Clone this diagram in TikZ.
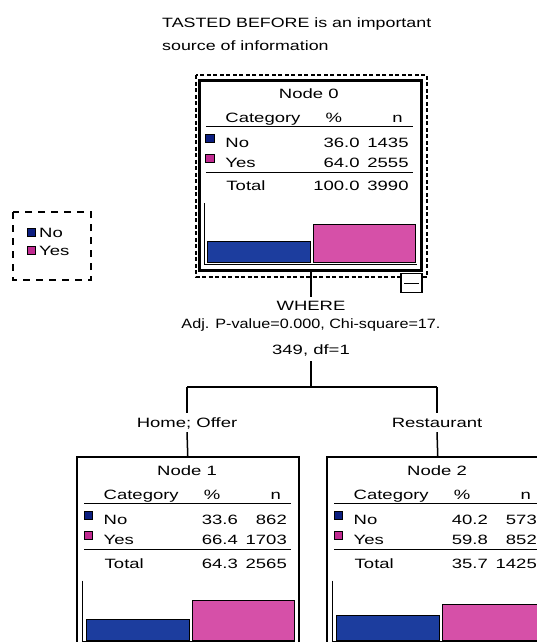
\documentclass[tikz,border=0pt]{standalone}
\usepackage{fontspec}
\newfontfamily\spss[FakeStretch=1.37]{Liberation Sans}
\newfontfamily\spsstitle[FakeStretch=1.32]{Liberation Sans}
\newfontfamily\spssnarrow[FakeStretch=1.2]{Liberation Sans}
\definecolor{barblue}{HTML}{1C3D9E}
\definecolor{barpink}{HTML}{D650A8}
\definecolor{sqblue}{HTML}{0C1E80}
\definecolor{sqpink}{HTML}{C02A90}
\tikzset{
  txt/.style={inner sep=0pt, font={\fontsize{13.5}{16}\selectfont\spss}, text=black},
  rulel/.style={line width=1.5pt},
  bar/.style={draw=black, line width=0.9pt},
  sq/.style={draw=black, line width=0.7pt},
  conn/.style={line width=1.5pt},
  lbl/.style={txt, text height=9.7pt, text depth=0pt, inner ysep=4.5pt},
  treebox/.style={draw, line width=1.5pt, minimum width=222pt, minimum height=190pt, anchor=north west, inner sep=0pt},
}
\newcommand\statbox[8]{%
\begin{scope}[shift={(#1.north west)}]
\node[txt,anchor=base] (#1-title) at (111,19.5) {Node #2};
\node[txt,anchor=base west] (#1-cat) at (27.5,43.5) {Category};
\node[txt,anchor=base] (#1-pct) at (136,43.5) {\%};
\node[txt,anchor=base east] (#1-n) at (205,43.5) {n};
\draw[rulel] (8,47.5) -- (215,47.5);
\draw[sq,fill=sqblue] (8,55.5) rectangle (16.5,63.5);
\node[txt,anchor=base west] (#1-no) at (27.5,68.5) {No};
\node[txt,anchor=base east] (#1-pno) at (162,68.5) {#3};
\node[txt,anchor=base east] (#1-nno) at (211,68.5) {#4};
\draw[sq,fill=sqpink] (8,75.5) rectangle (16.5,83.5);
\node[txt,anchor=base west] (#1-yes) at (27.5,88.5) {Yes};
\node[txt,anchor=base east] (#1-pyes) at (162,88.5) {#5};
\node[txt,anchor=base east] (#1-nyes) at (211,88.5) {#6};
\draw[rulel] (8,93.5) -- (215,93.5);
\node[txt,anchor=base west] (#1-tot) at (28.5,112) {Total};
\node[txt,anchor=base east] (#1-ptot) at (162,112) {#7};
\node[txt,anchor=base east] (#1-ntot) at (211,112) {#8};
\draw[rulel] (6.7,124.5) -- (6.7,185.5) -- (219,185.5);
\draw[bar,fill=barblue] (10,{184-0.6*#3}) rectangle (113,184);
\draw[bar,fill=barpink] (116,{184-0.6*#5}) rectangle (218,184);
\end{scope}}
\begin{document}
\begin{tikzpicture}[x=1pt,y=-1pt]
\useasboundingbox (0,0) rectangle (537,642);
\fill[white] (0,0) rectangle (537,642);
% title
\node[txt,anchor=base west,font={\fontsize{13.5}{16}\selectfont\spsstitle}] (title1) at (162,27.7) {TASTED BEFORE is an important};
\node[txt,anchor=base west,font={\fontsize{13.5}{16}\selectfont\spsstitle}] (title2) at (162,51) {source of information};
% legend
\draw[line width=1.4pt, dash pattern=on 7pt off 6pt] (13,212) rectangle (91,280);
\draw[sq,fill=sqblue] (27,228) rectangle (35,236);
\draw[sq,fill=sqpink] (27,246.5) rectangle (35,254.5);
\node[txt,anchor=base west] (legno) at (39,237) {No};
\node[txt,anchor=base west] (legyes) at (39,255) {Yes};
% root node
\node[treebox, line width=3.5pt] (n0) at (197.75,78.75) {};
\draw[line width=1.4pt, dash pattern=on 4pt off 2.5pt] (196,75) rectangle (427,277);
\statbox{n0}{0}{36.0}{1435}{64.0}{2555}{100.0}{3990}
\node[draw, fill=white, line width=1.4pt, minimum width=21pt, minimum height=19pt, anchor=north east, inner sep=0pt] (col) at (422.5,273) {};
\draw[line width=1.4pt] ([xshift=4pt]col.west) -- ([xshift=-4pt]col.east);
% split
\node[lbl, inner ysep=4pt] (where) at (311,306) {WHERE};
\node[txt, anchor=base, font={\fontsize{13.5}{16}\selectfont\spssnarrow}] (stat) at (311,328.3) {Adj. P-value=0.000, Chi-square=17.};
\node[lbl, inner ysep=6pt] (df) at (311,350) {349, df=1};
\draw[conn] (where.north |- n0.south) -- (where.north);
\coordinate (j0) at (311,387);
\coordinate (jl) at (187,387);
\coordinate (jr) at (437,387);
\draw[conn] (df.south) -- (j0);
\draw[conn] (jl) -- (jr);
\node[lbl] (home) at (187,422.5) {Home; Offer};
\node[lbl] (rest) at (437,422.5) {Restaurant};
\draw[conn] (jl) -- (home.north);
\draw[conn] (jr) -- (rest.north);
% child nodes
\node[treebox] (n1) at (76,456) {};
\node[treebox] (n2) at (326,456) {};
\draw[conn] (home.south) -- (n1.north);
\draw[conn] (rest.south) -- (n2.north);
\statbox{n1}{1}{33.6}{862}{66.4}{1703}{64.3}{2565}
\statbox{n2}{2}{40.2}{573}{59.8}{852}{35.7}{1425}
\end{tikzpicture}
\end{document}
